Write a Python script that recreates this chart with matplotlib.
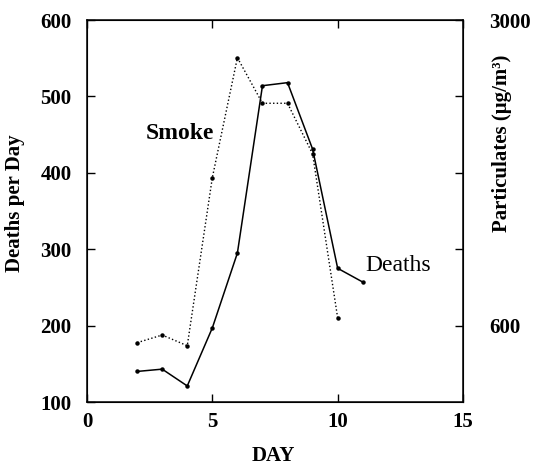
import numpy as np
import matplotlib.pyplot as plt

# data
day_deaths = [2, 3, 4, 5, 6, 7, 8, 9, 10, 11]
deaths = [140, 143, 121, 197, 295, 514, 518, 431, 275, 257]

day_smoke = [2, 3, 4, 5, 6, 7, 8, 9, 10]
smoke = [466, 526, 442, 1762, 2704, 2346, 2346, 1948, 660]  # ug/m3

plt.rcParams['font.family'] = ['Liberation Serif', 'DejaVu Serif']

fig = plt.figure(figsize=(5.42, 4.67), dpi=100)
ax = fig.add_axes([87/542, 65/467, 376/542, 382/467])
ax2 = ax.twinx()

ax.plot(day_deaths, deaths, '-', color='black', lw=1.1, marker='o', ms=2.2)
ax2.plot(day_smoke, smoke, ':', color='black', lw=1.0, marker='o', ms=2.2)

ax.set_xlim(0, 15)
ax.set_ylim(100, 600)
ax2.set_ylim(0, 3000)

ax.set_xticks([0, 5, 10, 15])
ax.set_yticks([100, 200, 300, 400, 500, 600])
ax2.set_yticks([600, 3000])
ax2.set_yticks([1200, 1800, 2400], minor=True)

ax.tick_params(axis='x', direction='in', length=6, width=1, labelsize=15, top=True, pad=7)
ax.tick_params(axis='y', direction='in', length=6, width=1, labelsize=15, right=False, pad=11)
ax2.tick_params(which='both', direction='in', length=6, width=1, labelsize=15, pad=19)
for lab in ax.get_xticklabels() + ax.get_yticklabels() + ax2.get_yticklabels():
    lab.set_fontweight('bold')

fig.text(273/542, 1 - 456/467, 'DAY', fontsize=15, fontweight='bold', ha='center', va='center')
fig.text(15/542, 1 - 203/467, 'Deaths per Day', fontsize=15, fontweight='bold',
         rotation=90, ha='center', va='center')
fig.text(502/542, 1 - 143/467, 'Particulates (\u03bcg/m\u00b3)', fontsize=15, fontweight='bold',
         rotation=90, ha='center', va='center')

ax.text(2.35, 452, 'Smoke', fontsize=17, fontweight='bold', va='center', ha='left')
ax.text(11.1, 279, 'Deaths', fontsize=17, va='center', ha='left')

for s in ax.spines.values():
    s.set_linewidth(1.1)

fig.savefig('out.png', dpi=100)
